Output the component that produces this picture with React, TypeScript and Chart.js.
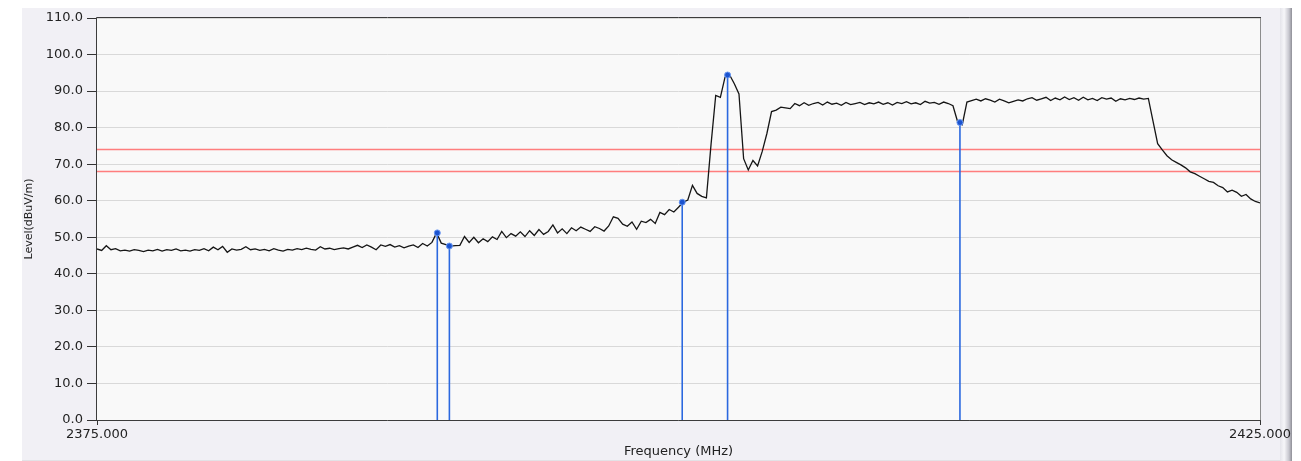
import { useEffect, useRef } from "react";
import { Chart, registerables } from "chart.js";

Chart.register(...registerables);

// Sweep settings (MHz)
const FREQ_START = 2375;
const FREQ_STOP = 2425;
const FREQ_STEP = 0.2;

// Measured field strength, dBuV/m, one value per sweep step
const TRACE_LEVELS = [
  // 2375.0 – 2389.4
  46.8, 46.4, 47.7, 46.6, 46.9, 46.3, 46.5, 46.2, 46.6, 46.4,
  46.1, 46.5, 46.3, 46.7, 46.2, 46.6, 46.4, 46.8, 46.3, 46.5,
  46.2, 46.6, 46.4, 46.9, 46.3, 47.3, 46.6, 47.5, 45.9, 46.8,
  46.5, 46.7, 47.4, 46.6, 46.8, 46.4, 46.7, 46.3, 46.9, 46.5,
  46.2, 46.7, 46.5, 46.9, 46.6, 47.0, 46.7, 46.5, 47.4, 46.8,
  47.0, 46.6, 46.9, 47.1, 46.8, 47.3, 47.8, 47.2, 47.9, 47.3,
  46.6, 47.9, 47.5, 48.0, 47.3, 47.7, 47.1, 47.6, 47.9, 47.2,
  48.3, 47.6, 48.6,
  // 2389.6 – 2405.0
  51.2, 48.4, 48.0, 47.6, 47.7, 47.8, 50.2, 48.6, 50.0, 48.5,
  49.6, 48.8, 50.1, 49.4, 51.6, 49.9, 51.0, 50.3, 51.5, 50.2,
  51.8, 50.5, 52.1, 50.8, 51.6, 53.4, 51.2, 52.3, 51.0, 52.6,
  51.8, 52.8, 52.2, 51.6, 52.9, 52.4, 51.7, 53.1, 55.6, 55.2,
  53.6, 53.0, 54.2, 52.2, 54.4, 54.0, 54.9, 53.8, 56.8, 56.2,
  57.6, 56.9, 58.2, 59.6, 60.2, 64.2, 62.0, 61.2, 60.8, 75.5,
  88.8, 88.3, 93.8, 94.4, 92.0, 89.2, 71.5, 68.4, 71.0, 69.5,
  73.5, 78.4, 84.4, 84.8, 85.6, 85.4, 85.2, 86.6,
  // 2405.2 – 2411.8
  86.0, 86.8, 86.1, 86.6, 86.9, 86.2, 87.0, 86.4, 86.7, 86.1,
  86.9, 86.3, 86.6, 86.9, 86.3, 86.8, 86.5, 87.0, 86.4, 86.8,
  86.2, 86.9, 86.6, 87.1, 86.5, 86.8, 86.3, 87.2, 86.7, 86.9,
  86.4, 87.0, 86.6, 86.0,
  // 2412.0 – 2412.4
  81.6, 80.8, 87.0,
  // 2412.6 – 2420.2
  87.4, 87.8, 87.3, 87.9, 87.5, 87.0, 87.8, 87.3, 86.8, 87.2,
  87.6, 87.3, 87.9, 88.2, 87.5, 87.9, 88.3, 87.4, 88.1, 87.6,
  88.4, 87.7, 88.2, 87.5, 88.3, 87.6, 88.0, 87.4, 88.2, 87.8,
  88.1, 87.2, 87.9, 87.6, 88.0, 87.7, 88.1, 87.8, 88.0,
  // 2420.4 – 2425.0
  81.8, 75.6, 73.9, 72.3, 71.2, 70.5, 69.8, 69.0, 67.9, 67.4,
  66.7, 66.0, 65.3, 65.0, 64.1, 63.6, 62.4, 62.9, 62.3, 61.2,
  61.7, 60.5, 59.8, 59.4,
];

// Peak markers
const MARKER_FREQS = [2389.63, 2390.15, 2400.16, 2402.11, 2412.1];
const MARKER_LEVELS = [51.2, 47.6, 59.6, 94.4, 81.4];

// Limit lines, dBuV/m
const LIMIT_LEVELS = [74.0, 68.0];

const X_TICKS = [2375, 2425];
const Y_MIN = 0;
const Y_MAX = 110;
const Y_STEP = 10;

const FONT = "'DejaVu Sans', Verdana, sans-serif";

const plotFrame = {
  id: "plotFrame",
  beforeDraw(chart: any) {
    const { ctx, chartArea } = chart;
    const { left, top, right, bottom } = chartArea;
    ctx.save();
    ctx.fillStyle = "#f9f9f9";
    ctx.fillRect(left, top, right - left, bottom - top);
    ctx.restore();
  },
  afterDraw(chart: any) {
    const { ctx, chartArea } = chart;
    const { left, top, right, bottom } = chartArea;
    ctx.save();
    ctx.lineWidth = 1;
    ctx.strokeStyle = "#8c8c8c";
    ctx.beginPath();
    ctx.moveTo(Math.round(right) + 0.5, top);
    ctx.lineTo(Math.round(right) + 0.5, bottom);
    ctx.stroke();
    ctx.strokeStyle = "#3c3c3c";
    ctx.beginPath();
    ctx.moveTo(Math.round(left) - 0.5, Math.round(top) - 0.5);
    ctx.lineTo(Math.round(right) + 1, Math.round(top) - 0.5);
    ctx.moveTo(Math.round(left) - 0.5, Math.round(top) - 0.5);
    ctx.lineTo(Math.round(left) - 0.5, Math.round(bottom) + 0.5);
    ctx.lineTo(Math.round(right) + 1, Math.round(bottom) + 0.5);
    ctx.stroke();
    ctx.restore();
  },
};

export default function App() {
  const canvasRef = useRef<HTMLCanvasElement | null>(null);

  useEffect(() => {
    const canvas = canvasRef.current;
    if (!canvas) return;

    const traceData = TRACE_LEVELS.map((v, i) => ({
      x: FREQ_START + i * FREQ_STEP,
      y: v,
    }));

    const markerSets = MARKER_FREQS.map((f, i) => ({
      label: `M${i + 1}`,
      data: [
        { x: f, y: Y_MIN },
        { x: f, y: MARKER_LEVELS[i] },
      ],
      borderColor: "#2b68df",
      borderWidth: 1.6,
      pointRadius: [0, 3],
      pointBackgroundColor: "#1b53cf",
      pointBorderColor: "#6a98f2",
      pointBorderWidth: 1,
      order: 0,
    }));

    const limitSets = LIMIT_LEVELS.map((l, i) => ({
      label: `Limit ${i + 1}`,
      data: [
        { x: FREQ_START, y: l },
        { x: FREQ_STOP, y: l },
      ],
      borderColor: "#ff7e7e",
      borderWidth: 1.4,
      pointRadius: 0,
      order: 2,
    }));

    const chart = new Chart(canvas, {
      type: "line",
      data: {
        datasets: [
          ...markerSets,
          {
            label: "Level",
            data: traceData,
            borderColor: "#151515",
            borderWidth: 1.3,
            pointRadius: 0,
            tension: 0,
            order: 1,
          },
          ...limitSets,
        ] as any,
      },
      options: {
        animation: false,
        responsive: false,
        events: [],
        layout: { padding: { left: 0, top: 18, right: 41, bottom: 0 } },
        plugins: {
          legend: { display: false },
          tooltip: { enabled: false },
        },
        scales: {
          x: {
            type: "linear",
            min: FREQ_START,
            max: FREQ_STOP,
            afterBuildTicks: (s: any) => {
              s.ticks = X_TICKS.map((v) => ({ value: v }));
            },
            afterFit: (s: any) => {
              s.height = 41;
            },
            ticks: {
              autoSkip: false,
              maxRotation: 0,
              padding: 2,
              color: "#222",
              font: { family: FONT, size: 13 },
              callback: (v: any) => Number(v).toFixed(3),
            },
            grid: {
              drawOnChartArea: false,
              tickColor: "#333",
              tickLength: 5,
            },
            border: { display: false },
            title: {
              display: true,
              text: "Frequency (MHz)",
              color: "#222",
              font: { family: FONT, size: 13 },
              padding: { top: 0, bottom: 2 },
            },
          },
          y: {
            type: "linear",
            min: Y_MIN,
            max: Y_MAX,
            afterFit: (s: any) => {
              s.width = 97;
            },
            ticks: {
              stepSize: Y_STEP,
              padding: 4,
              color: "#222",
              font: { family: FONT, size: 13 },
              callback: (v: any) => Number(v).toFixed(1),
            },
            grid: {
              color: "#d9d9d9",
              tickColor: "#333",
              tickLength: 10,
            },
            border: { display: false },
            title: {
              display: true,
              text: "Level(dBuV/m)",
              color: "#222",
              font: { family: FONT, size: 11 },
              padding: { top: 23, bottom: 0 },
            },
          },
        },
      },
      plugins: [plotFrame],
    } as any);

    return () => chart.destroy();
  }, []);

  return (
    <div
      style={{
        position: "absolute",
        left: 0,
        top: 0,
        width: 1301,
        height: 461,
        background: "#ffffff",
        overflow: "hidden",
      }}
    >
      <div
        style={{
          position: "absolute",
          left: 22,
          top: 8,
          width: 1258,
          height: 452,
          background: "#f1f0f5",
          borderBottom: "1px solid #e2e2e6",
        }}
      />
      <div
        style={{
          position: "absolute",
          left: 1280,
          top: 8,
          width: 12,
          height: 453,
          background:
            "linear-gradient(to right, #e4e4ea, #f6f6f9 35%, #c6c6ce 75%, #8e8e96)",
        }}
      />
      <canvas
        ref={canvasRef}
        width={1301}
        height={461}
        style={{ position: "absolute", left: 0, top: 0, width: 1301, height: 461 }}
      />
    </div>
  );
}
